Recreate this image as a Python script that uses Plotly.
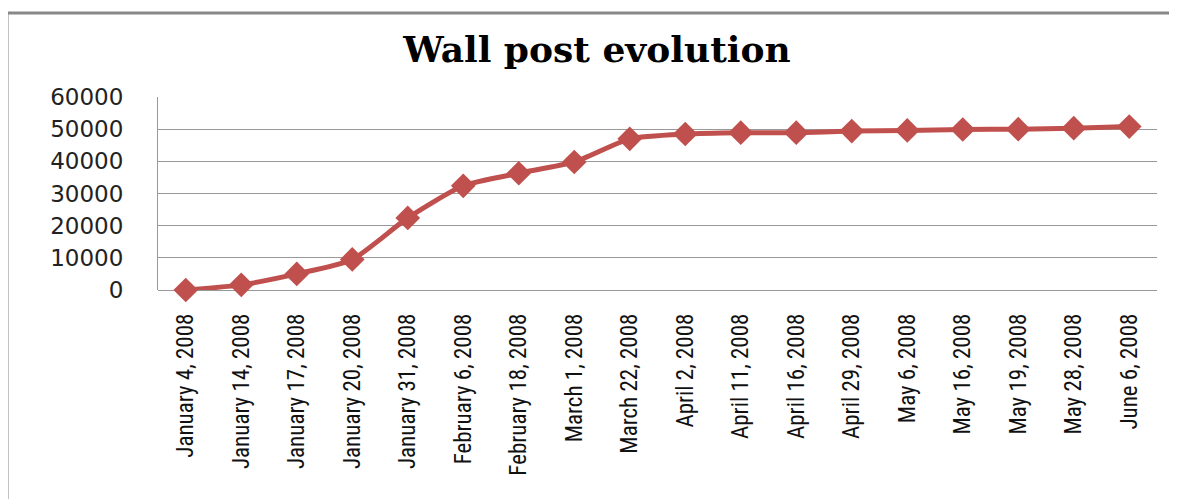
import plotly.graph_objects as go

dates = ["January 4, 2008", "January 14, 2008", "January 17, 2008", "January 20, 2008",
         "January 31, 2008", "February 6, 2008", "February 18, 2008", "March 1, 2008",
         "March 22, 2008", "April 2, 2008", "April 11, 2008", "April 16, 2008",
         "April 29, 2008", "May 6, 2008", "May 16, 2008", "May 19, 2008",
         "May 28, 2008", "June 6, 2008"]
wall_posts = [0, 1600, 5000, 9500, 22400, 32400, 36300, 39800, 47000, 48500,
              48900, 48900, 49400, 49600, 49900, 50000, 50300, 50800]
y_ticks = [0, 10000, 20000, 30000, 40000, 50000, 60000]
y_tick_text = [str(v) for v in y_ticks]

OFF = 8  # page body margin
W, H = 1177 - OFF, 499 - OFF
L, R, T, B = 158 - OFF, W - (1157 - OFF), 97 - OFF, H - (290 - OFF)
pw, ph = W - L - R, H - T - B

fig = go.Figure()
fig.add_trace(go.Scatter(
    x=dates, y=wall_posts, mode="lines+markers",
    line=dict(color="#C0504D", width=5, shape="spline", smoothing=0.6),
    marker=dict(symbol="diamond", size=19, color="#C0504D"),
    showlegend=False, cliponaxis=False,
))

def px_x(p):
    return (p - OFF - L) / pw

def px_y(p):
    return (H - B - (p - OFF)) / ph

fig.update_layout(
    width=W, height=H,
    margin=dict(l=L, r=R, t=T, b=B),
    paper_bgcolor="white", plot_bgcolor="white",
    title=dict(text="<b>Wall post evolution</b>", x=px_x(597), xref="paper", xanchor="center",
               y=1 - (49 - OFF) / H, yanchor="middle",
               font=dict(family="DejaVu Serif", size=36, color="#000")),
    xaxis=dict(type="category", range=[-0.5, len(dates) - 0.5], tickangle=-90,
               showgrid=False, showline=False,
               ticks="", ticklabelstandoff=18,
               tickfont=dict(family="Liberation Sans Narrow, Roboto Condensed, Liberation Sans", size=23, color="#111")),
    yaxis=dict(range=[0, 60000], tickvals=y_ticks, ticktext=y_tick_text,
               showgrid=True, gridcolor="#999",
               gridwidth=1, showline=True, linecolor="#999", linewidth=1,
               zeroline=True, zerolinecolor="#999", zerolinewidth=1,
               ticks="", ticklabelstandoff=29,
               tickfont=dict(family="DejaVu Sans", size=23, color="#222")),
    shapes=[
        dict(type="line", xref="paper", yref="paper", x0=px_x(6), x1=px_x(1200),
             y0=px_y(13), y1=px_y(13), line=dict(color="#888", width=3)),
        dict(type="line", xref="paper", yref="paper", x0=px_x(7), x1=px_x(7),
             y0=px_y(13), y1=px_y(520), line=dict(color="#888", width=3)),
    ],
)
fig.write_html("out.html")
